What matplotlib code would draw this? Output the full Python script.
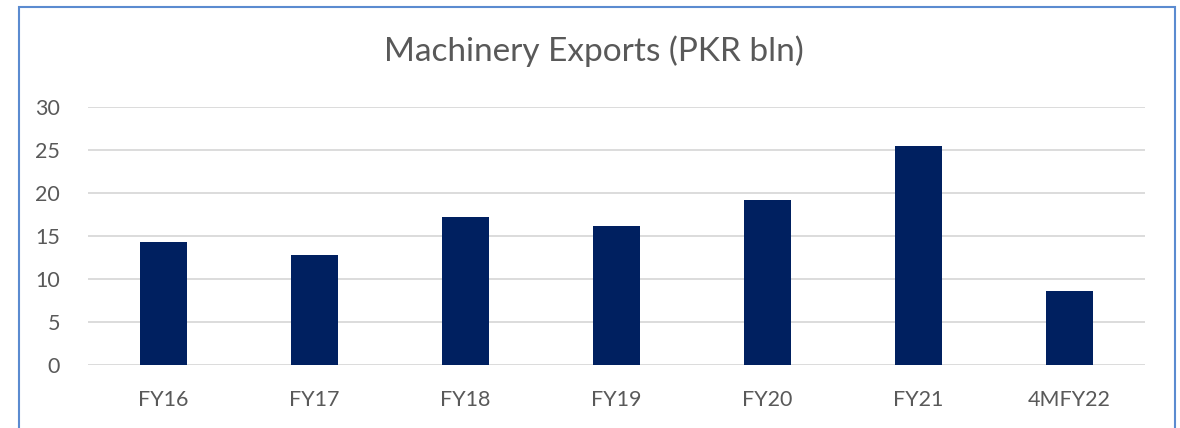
import matplotlib
matplotlib.use("Agg")
import matplotlib.pyplot as plt
from matplotlib.patches import Rectangle

# data
categories = ["FY16", "FY17", "FY18", "FY19", "FY20", "FY21", "4MFY22"]
exports = [14.3, 12.8, 17.2, 16.2, 19.2, 25.5, 8.6]
yticks = [0, 5, 10, 15, 20, 25, 30]

plt.rcParams['font.family'] = ['Lato', 'DejaVu Sans']

fig = plt.figure(figsize=(11.8, 4.28), dpi=100)
ax = fig.add_axes([88/1180, 1-365/428, (1145-88)/1180, (365-107)/428])

x = range(len(categories))
ax.bar(x, exports, width=0.31, color="#002060", zorder=3)

ax.set_xlim(-0.5, len(categories)-0.5)
ax.set_ylim(0, 30)
ax.set_yticks(yticks)
ax.set_xticks(list(x))
ax.set_xticklabels(categories)
ax.grid(axis="y", color="#d9d9d9", linewidth=1.3, zorder=0)
for s in ax.spines.values():
    s.set_visible(False)
ax.tick_params(length=0, labelsize=15.5, colors="#595959")
ax.tick_params(axis="x", pad=18)
ax.tick_params(axis="y", pad=20)

fig.text(594/1180, 1-51/428, "Machinery Exports (PKR bln)", ha="center", va="center",
         fontsize=24, color="#595959")

# chart frame
fig.patches.append(Rectangle((19/1180, -0.1), (1175-19)/1180, 1.1-7/428,
                             transform=fig.transFigure, fill=False,
                             edgecolor="#5b8bd0", linewidth=1.5))

fig.savefig("out.png", dpi=100)
